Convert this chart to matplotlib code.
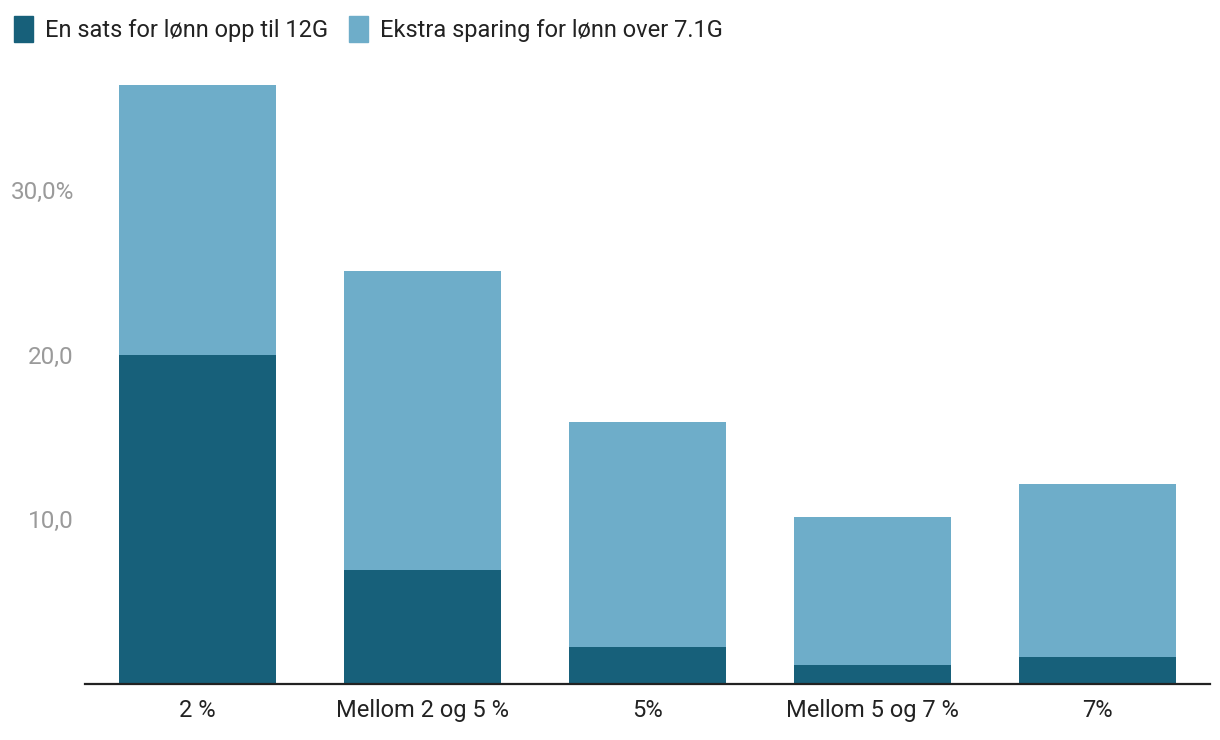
import matplotlib.pyplot as plt
from matplotlib.patches import Patch

plt.rcParams['font.family'] = ['Roboto', 'DejaVu Sans']

# data
categories = ['2 %', 'Mellom 2 og 5 %', '5%', 'Mellom 5 og 7 %', '7%']
en_sats = [20.0, 6.9, 2.25, 1.15, 1.65]
ekstra = [16.4, 18.2, 13.65, 9.0, 10.5]
series_names = ['En sats for lønn opp til 12G', 'Ekstra sparing for lønn over 7.1G']
yticks = [10, 20, 30]
ytick_labels = ['10,0', '20,0', '30,0%']

dark = '#17607a'
light = '#6eadc9'

fig = plt.figure(figsize=(12.2, 7.4), dpi=100)
ax = fig.add_axes([85 / 1220, 1 - 684 / 740, 1125 / 1220, (684 - 67) / 740])

x = range(len(categories))
ax.bar(x, en_sats, width=0.7, color=dark)
ax.bar(x, ekstra, width=0.7, bottom=en_sats, color=light)

ax.set_xlim(-0.5, len(categories) - 0.5)
ax.set_ylim(0, 37.5)
ax.set_xticks(list(x))
ax.set_xticklabels(categories, fontsize=17, color='#222222')
ax.set_yticks(yticks)
ax.set_yticklabels(ytick_labels, fontsize=17.5, color='#9a9a9a')
ax.tick_params(axis='both', length=0)
ax.tick_params(axis='x', pad=11)
ax.tick_params(axis='y', pad=8)

for s in ['top', 'right', 'left']:
    ax.spines[s].set_visible(False)
ax.spines['bottom'].set_linewidth(1.6)
ax.spines['bottom'].set_color('#222222')

handles = [Patch(color=dark), Patch(color=light)]
fig.legend(handles, series_names, loc='upper left', bbox_to_anchor=(0.002, 1 - 4 / 740),
           ncol=2, frameon=False, fontsize=17, handlelength=0.8, handleheight=1.35,
           handletextpad=0.5, columnspacing=0.9, borderaxespad=0.2, borderpad=0.3,
           labelcolor='#222222')

fig.savefig('out.png', dpi=100)
